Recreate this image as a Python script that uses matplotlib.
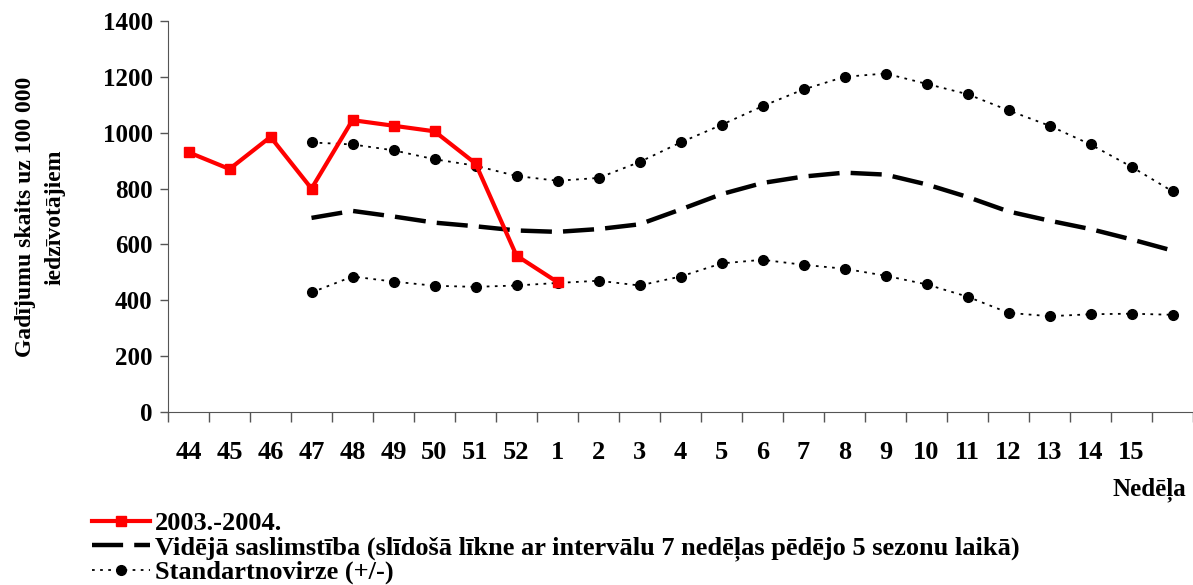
import matplotlib.pyplot as plt
from matplotlib.lines import Line2D

weeks = ['44', '45', '46', '47', '48', '49', '50', '51', '52', '1', '2', '3', '4',
         '5', '6', '7', '8', '9', '10', '11', '12', '13', '14', '15', '']

season = [930, 870, 985, 800, 1045, 1025, 1005, 890, 560, 465]

mean_start = 3
mean = [695, 720, 700, 678, 665, 650, 645, 655, 672, 725, 780, 820, 843, 857,
        850, 815, 770, 718, 685, 655, 618, 578]
upper = [965, 958, 937, 905, 882, 845, 828, 838, 895, 965, 1028, 1095, 1155,
         1200, 1212, 1175, 1138, 1080, 1025, 958, 878, 790]
lower = [428, 485, 467, 452, 448, 453, 462, 470, 453, 485, 532, 545, 527, 513,
         488, 457, 413, 355, 343, 350, 352, 348]

font = ['Liberation Serif', 'DejaVu Serif']
plt.rcParams['font.family'] = font
plt.rcParams['font.weight'] = 'bold'

fig = plt.figure(figsize=(11.93, 5.85), dpi=100)
ax = fig.add_axes([168 / 1193, 1 - 412 / 585, 1 - 168 / 1193, (412 - 21) / 585])

x_all = list(range(len(weeks)))
x_rest = x_all[mean_start:mean_start + len(mean)]

dot_style = (0, (1.5, 3))
ax.plot(x_rest, upper, color='black', lw=1.3, ls=dot_style, marker='o', ms=7)
ax.plot(x_rest, lower, color='black', lw=1.3, ls=dot_style, marker='o', ms=7)
ax.plot(x_rest, mean, color='black', lw=3.2, ls=(0, (7, 2.5)))
ax.plot(x_all[:len(season)], season, color='#ff0000', lw=3, marker='s', ms=7)

ax.set_xlim(-0.5, len(weeks) - 0.5)
ax.set_ylim(0, 1400)
ax.set_yticks(range(0, 1401, 200))
ax.set_xticks([i - 0.5 for i in range(len(weeks) + 1)])
ax.set_xticklabels([])
ax.set_xticks(x_all, minor=True)
ax.set_xticklabels(weeks, minor=True)
ax.tick_params(axis='x', which='major', length=7, direction='out', width=1, color='#555555')
ax.tick_params(axis='x', which='minor', length=0, pad=21, labelsize=19)
ax.tick_params(axis='y', length=6, direction='out', width=1, color='#555555',
               labelsize=18, pad=5)
for s in ['top', 'right']:
    ax.spines[s].set_visible(False)
for s in ['left', 'bottom']:
    ax.spines[s].set_color('#555555')

fig.text(40 / 1193, 1 - 217 / 585, 'Gadījumu skaits uz 100 000\niedzīvotājiem',
         rotation=90, ha='center', va='center', fontsize=17, fontweight='bold',
         linespacing=1.5)
fig.text(1186 / 1193, 1 - 490 / 585, 'Nedēļa', ha='right', va='center',
         fontsize=18, fontweight='bold')

handles = [
    Line2D([], [], color='#ff0000', lw=3, marker='s', ms=7),
    Line2D([], [], color='black', lw=3.2, ls=(0, (7, 2.5))),
    Line2D([], [], color='black', lw=1.3, ls=dot_style, marker='o', ms=7),
]
labels = ['2003.-2004.',
          'Vidējā saslimstība (slīdošā līkne ar intervālu 7 nedēļas pēdējo 5 sezonu laikā)',
          'Standartnovirze (+/-)']
fig.legend(handles, labels, loc='upper left', bbox_to_anchor=(92 / 1193, 1 - 512 / 585),
           frameon=False, fontsize=19, handlelength=2.2, handletextpad=0.2,
           labelspacing=0.0, borderpad=0, borderaxespad=0)

fig.savefig('out.png', dpi=100)
